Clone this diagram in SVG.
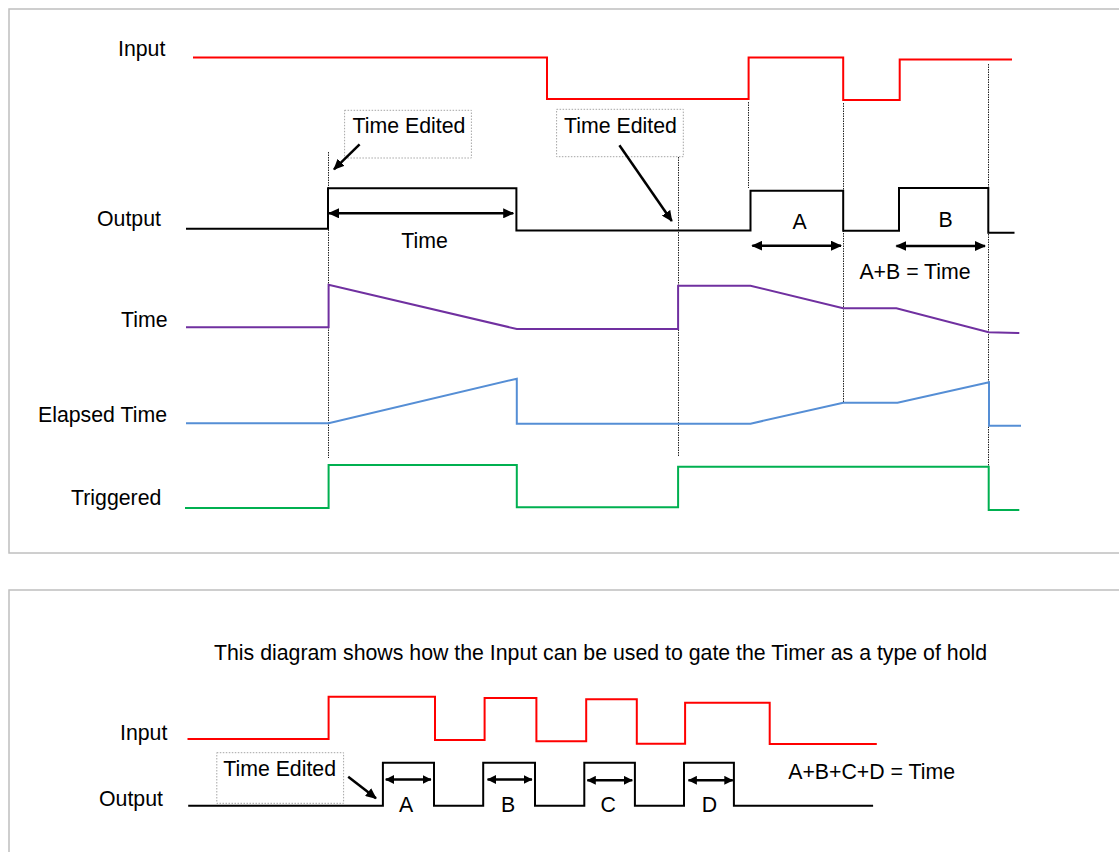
<svg xmlns="http://www.w3.org/2000/svg" width="1119" height="852" viewBox="0 0 1119 852">
<style>
text{font-family:"Liberation Sans",Arial,sans-serif;font-size:21.3px;fill:#000}
.sig{fill:none;stroke-width:2;stroke-linejoin:miter}
.red{stroke:#ff0000}.blk{stroke:#000}.pur{stroke:#7030a0}.blu{stroke:#558ed5}.grn{stroke:#00b050}
.guide{stroke:#222;stroke-width:1;stroke-dasharray:1.5,1}
.box{fill:none;stroke:#a6a6a6;stroke-width:1;stroke-dasharray:1.5,1.5}
.arr{stroke:#000;stroke-width:2.5;fill:none}
.panel{fill:none;stroke:#bfbfbf;stroke-width:1.5}
</style>
<defs>
<marker id="ah" markerUnits="userSpaceOnUse" markerWidth="11" markerHeight="10" refX="10" refY="5" orient="auto-start-reverse"><path d="M0,0 L11,5 L0,10 z" fill="#000"/></marker>
<marker id="ahs" markerUnits="userSpaceOnUse" markerWidth="9" markerHeight="9" refX="8.5" refY="4.5" orient="auto-start-reverse"><path d="M0,0 L9,4.5 L0,9 z" fill="#000"/></marker>
</defs>
<rect width="1119" height="852" fill="#fff"/>
<rect class="panel" x="9" y="9" width="1130" height="544"/>
<rect class="panel" x="9" y="590" width="1130" height="280"/>

<g id="labels-top">
<text x="118" y="56">Input</text>
<text x="97" y="226">Output</text>
<text x="121" y="327">Time</text>
<text x="38" y="422">Elapsed Time</text>
<text x="71" y="505">Triggered</text>
</g>

<g id="guides">
<line class="guide" x1="328.5" y1="152" x2="328.5" y2="458"/>
<line class="guide" x1="678.5" y1="157" x2="678.5" y2="457"/>
<line class="guide" x1="748.5" y1="102" x2="748.5" y2="188"/>
<line class="guide" x1="843.5" y1="103" x2="843.5" y2="402"/>
<line class="guide" x1="988.5" y1="64" x2="988.5" y2="466"/>
</g>

<g id="input-top"><polyline class="sig red" points="193,57.5 547,57.5 547,99 748.6,99 748.6,57.5 843.2,57.5 843.2,100 899.7,100 899.7,59.5 1012,59.5"/></g>
<g id="output-top"><polyline class="sig blk" points="186,228.7 328,228.7 328,188.3 516.4,188.3 516.4,230.5 750.5,230.5 750.5,190.7 843.2,190.7 843.2,230.7 899,230.7 899,188 988.3,188 988.3,232.7 1014.5,232.7"/></g>
<g id="time-top"><polyline class="sig pur" points="186,327.3 328.6,327.3 328.6,284.7 516.8,329 678.1,329 678.1,285.7 750.5,285.7 843.2,308.3 896.4,308.3 988.7,332.3 1019.3,333"/></g>
<g id="elapsed-top"><polyline class="sig blu" points="186,423.3 328.6,423.3 516.8,378.7 516.8,423.7 750.5,423.7 843.2,402.7 897.5,402.7 989,382.3 989,425.7 1021,425.7"/></g>
<g id="triggered-top"><polyline class="sig grn" points="185,508 328.6,508 328.6,465 516.8,465 516.8,507.3 678.1,507.3 678.1,466.7 988.7,466.7 988.7,510 1019.3,510"/></g>

<g id="time-edited-1"><rect class="box" x="344.6" y="110.3" width="126.8" height="47.7"/><text x="352.5" y="133">Time Edited</text></g>
<g id="time-edited-2"><rect class="box" x="556.6" y="109.3" width="126.7" height="47.4"/><text x="564" y="132.5">Time Edited</text></g>

<g id="annotations-top">
<text x="424.6" y="248" text-anchor="middle">Time</text>
<text x="799.6" y="229" text-anchor="middle">A</text>
<text x="945.5" y="227" text-anchor="middle">B</text>
<text x="859.4" y="279">A+B = Time</text>
</g>

<g id="connectors">
<line class="arr" x1="359.6" y1="144.3" x2="334" y2="169.3" marker-end="url(#ah)"/>
<line class="arr" x1="619.4" y1="145.3" x2="671.8" y2="221" marker-end="url(#ah)"/>
<line class="arr" x1="329" y1="213.3" x2="513.2" y2="213.3" marker-start="url(#ah)" marker-end="url(#ah)"/>
<line class="arr" x1="752.3" y1="245.7" x2="841" y2="245.7" marker-start="url(#ah)" marker-end="url(#ah)"/>
<line class="arr" x1="896.4" y1="246" x2="985" y2="246" marker-start="url(#ah)" marker-end="url(#ah)"/>
<line class="arr" x1="348.2" y1="776.7" x2="376" y2="798.3" marker-end="url(#ah)"/>
<line class="arr" x1="385.7" y1="779.5" x2="431" y2="779.5" marker-start="url(#ahs)" marker-end="url(#ahs)"/>
<line class="arr" x1="487.5" y1="779.5" x2="532" y2="779.5" marker-start="url(#ahs)" marker-end="url(#ahs)"/>
<line class="arr" x1="587.3" y1="780.3" x2="632.3" y2="780.3" marker-start="url(#ahs)" marker-end="url(#ahs)"/>
<line class="arr" x1="688.4" y1="780.3" x2="732.8" y2="780.3" marker-start="url(#ahs)" marker-end="url(#ahs)"/>
</g>

<g id="caption"><text x="214" y="660">This diagram shows how the Input can be used to gate the Timer as a type of hold</text></g>

<g id="labels-bottom">
<text x="120" y="740">Input</text>
<text x="99" y="806">Output</text>
</g>

<g id="input-bottom"><polyline class="sig red" points="187.5,739 328.6,739 328.6,696.7 435,696.7 435,740 484.6,740 484.6,698 536.4,698 536.4,741.3 586.2,741.3 586.2,699.3 636.8,699.3 636.8,743.7 685.1,743.7 685.1,702.7 769.7,702.7 769.7,744 876.8,744"/></g>
<g id="output-bottom"><polyline class="sig blk" points="188.2,805.7 382.9,805.7 382.9,762.7 434,762.7 434,805.7 483.2,805.7 483.2,762.7 535,762.7 535,805.7 584.3,805.7 584.3,762.7 634.9,762.7 634.9,805.7 684,805.7 684,762.7 733.9,762.7 733.9,805.7 873.1,805.7"/></g>

<g id="time-edited-3"><rect class="box" x="216.8" y="752.7" width="126.8" height="50.6"/><text x="223.2" y="775.5">Time Edited</text></g>

<g id="annotations-bottom">
<text x="406" y="812" text-anchor="middle">A</text>
<text x="508.2" y="812" text-anchor="middle">B</text>
<text x="608.3" y="812" text-anchor="middle">C</text>
<text x="709.5" y="812" text-anchor="middle">D</text>
<text x="788.2" y="779">A+B+C+D = Time</text>
</g>
</svg>
